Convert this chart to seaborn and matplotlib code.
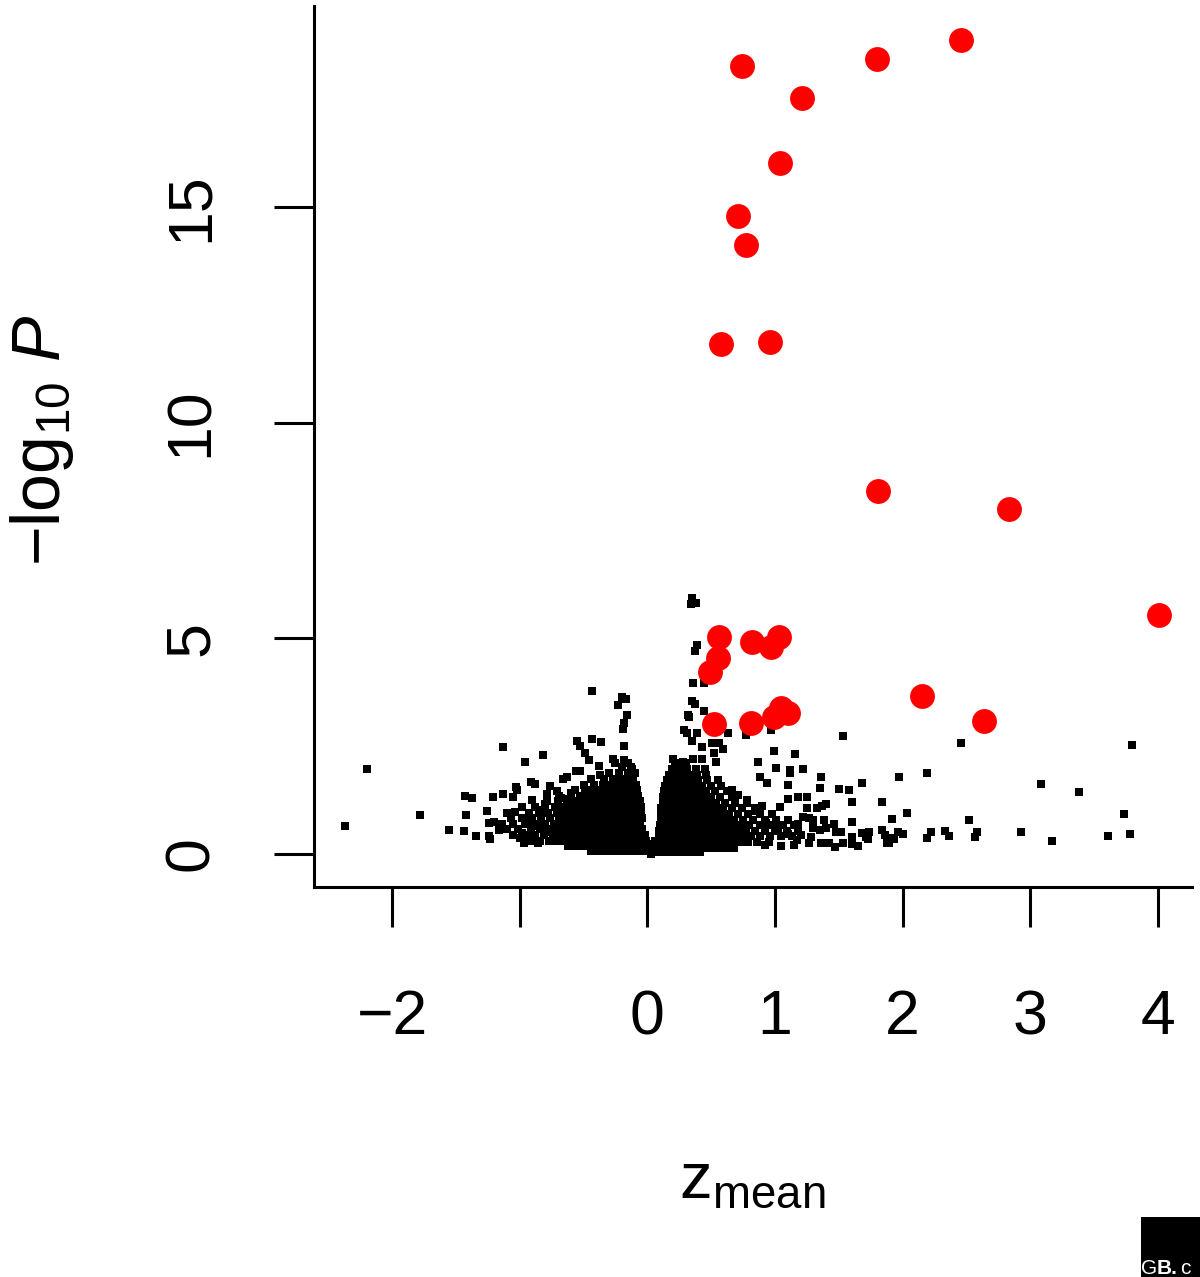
import numpy as np
import pandas as pd
import seaborn as sns
import matplotlib.pyplot as plt
from matplotlib.patches import Rectangle

# ----------------------------
# Data
# ----------------------------
# significant hits (red)
hit_z = [2.46, 1.80, 0.74, 1.21, 1.04, 0.71, 0.77, 0.58, 0.96, 1.81, 2.83, 4.01,
         0.56, 0.55, 0.49, 0.82, 0.97, 1.03, 0.52, 0.81, 0.99, 1.05, 1.10, 2.15, 2.64]
hit_p = [18.87, 18.42, 18.26, 17.52, 16.03, 14.78, 14.13, 11.83, 11.86, 8.42, 8.00, 5.54,
         5.03, 4.55, 4.22, 4.92, 4.80, 5.03, 3.02, 3.04, 3.18, 3.39, 3.27, 3.67, 3.09]

# scattered background genes (black), outside the dense core
spread_z = [-2.37, -2.20, -1.78, -1.55, -1.43, -1.37, -1.42, -1.44, -1.34, -1.24, -1.24,
            -1.26, -1.21, -1.13, -1.05, -1.03, -1.20, -1.16, -1.10, -1.04, -0.98, -0.97,
            -0.86, -1.23, -1.13, -0.82, -0.96, -0.91, -0.88, -1.02, -0.76, -0.71, -0.66,
            -0.63, -0.56, -0.53, -0.55, -0.43, -0.36, -0.53, -0.49, -0.46, -0.38, -0.37,
            -0.43, -0.20, -0.17, -0.23, -0.16, -0.18, -0.19, -0.18, -0.27, -0.25, -0.18,
            -0.15, -0.12,
            0.35, 0.34, 0.38, 0.39, 0.37, 0.36, 0.44, 0.35, 0.37, 0.32, 0.33, 0.44, 0.29,
            0.31, 0.35, 0.39, 0.63, 0.77, 0.97, 0.51, 0.56, 0.43, 0.52, 0.59, 0.99, 1.16,
            0.20, 0.28, 0.36, 0.43, 0.54, 0.87, 1.22, 1.01, 1.10, 1.36, 0.88, 0.94, 1.18,
            1.25, 1.10, 1.04, 1.53, 1.12, 1.12, 1.35, 1.50, 1.58, 1.68, 1.97, 1.60, 1.84,
            1.40, 1.37, 1.25, 1.33, 2.03, 1.92, 1.22, 1.27, 1.30, 1.30, 1.38, 1.46, 1.60,
            1.30, 1.35, 1.40, 1.48, 1.52, 1.68, 1.74, 1.84, 1.86, 1.96, 2.00, 1.17, 1.27,
            1.36, 1.42, 1.47, 1.53, 1.60, 1.60, 1.65, 1.71, 1.73, 1.88, 1.92, 1.89, 1.93,
            2.46, 3.80, 2.19, 3.08, 3.38, 3.73, 2.52, 2.93, 3.78, 3.61, 3.17, 2.22, 2.19,
            2.33, 2.36, 2.58, 2.57, 1.15, 1.05, 0.92, 1.20, 1.28,
            0.03, 0.04, 0.04, 0.05, 0.00, 0.06, -0.68, -0.60, -0.80, 0.71, 0.78, 0.66,
            -1.00, -0.86, -0.93, -0.75, -0.82, -0.70, -0.62, -0.98, -0.90, -0.79,
            0.85, 0.93, 1.02, 1.10, 0.90, 1.18]
spread_p = [0.65, 1.98, 0.90, 0.56, 1.35, 1.30, 0.90, 0.53, 0.42, 0.72, 0.42,
            1.00, 1.32, 1.39, 1.32, 1.56, 0.74, 0.56, 0.95, 0.98, 0.49, 0.26,
            0.26, 0.35, 2.48, 2.30, 2.14, 1.67, 1.62, 1.48, 1.58, 1.46, 1.74,
            1.78, 1.93, 1.93, 2.62, 2.67, 2.60, 2.50, 2.34, 2.18, 2.04, 1.83,
            3.78, 3.64, 3.60, 3.46, 3.22, 3.04, 2.90, 2.50, 2.20, 2.10, 2.18,
            2.12, 1.97,
            5.94, 5.80, 5.82, 4.85, 4.71, 3.96, 3.96, 3.55, 3.48, 3.22, 3.18, 3.32, 2.88,
            2.80, 2.62, 2.80, 2.80, 2.76, 2.88, 2.58, 2.58, 2.48, 2.34, 2.44, 2.39, 2.32,
            2.20, 2.13, 2.20, 2.20, 2.13, 2.13, 1.97, 1.99, 1.60, 1.79, 1.79, 1.65, 1.32,
            1.32, 1.28, 1.09, 2.74, 1.95, 1.88, 1.53, 1.50, 1.48, 1.64, 1.78, 1.20, 1.20,
            1.15, 1.11, 1.07, 1.07, 0.95, 0.81, 0.86, 0.83, 0.79, 0.72, 0.79, 0.70, 0.74,
            0.60, 0.56, 0.60, 0.51, 0.51, 0.49, 0.51, 0.56, 0.44, 0.51, 0.46, 0.33, 0.26,
            0.26, 0.26, 0.16, 0.26, 0.40, 0.23, 0.19, 0.40, 0.35, 0.26, 0.37, 0.26, 0.35,
            2.58, 2.53, 1.87, 1.62, 1.44, 0.92, 0.80, 0.52, 0.46, 0.41, 0.29, 0.51, 0.37,
            0.53, 0.42, 0.51, 0.39, 0.22, 0.18, 0.20, 0.45, 0.40,
            0.01, 0.08, 0.16, 0.24, 0.22, 0.30, 1.30, 1.42, 1.15, 1.36, 1.25, 1.48,
            0.37, 0.64, 0.76, 0.50, 1.02, 1.15, 1.28, 1.10, 1.25, 1.40,
            1.00, 0.72, 0.60, 0.47, 1.12, 0.69]

# dense core of the volcano, one row of genes per -log10 P level
left_rows_p = [0.06, 0.18, 0.31, 0.44, 0.57, 0.70, 0.83, 0.96, 1.09, 1.22, 1.35,
               1.48, 1.61, 1.74, 1.88, 2.02]
left_rows_z = [
    [-0.44, -0.39, -0.34, -0.29, -0.24, -0.19, -0.14, -0.09, -0.05, -0.01, 0.02],
    [-0.62, -0.56, -0.51, -0.46, -0.41, -0.36, -0.31, -0.26, -0.21, -0.16, -0.11, -0.06, -0.02, 0.01],
    [-0.92, -0.84, -0.77, -0.71, -0.65, -0.59, -0.54, -0.49, -0.44, -0.39, -0.34, -0.29, -0.24,
     -0.19, -0.14, -0.09, -0.05, -0.01],
    [-1.05, -0.94, -0.88, -0.81, -0.74, -0.68, -0.62, -0.57, -0.52, -0.47, -0.42, -0.37, -0.32,
     -0.27, -0.22, -0.17, -0.12, -0.07, -0.02],
    [-1.10, -1.01, -0.91, -0.84, -0.78, -0.71, -0.65, -0.59, -0.54, -0.49, -0.44, -0.39, -0.34,
     -0.29, -0.24, -0.19, -0.14, -0.09, -0.04],
    [-1.14, -1.05, -0.96, -0.88, -0.80, -0.73, -0.67, -0.61, -0.56, -0.51, -0.46, -0.41, -0.36,
     -0.31, -0.26, -0.21, -0.16, -0.11, -0.06],
    [-1.07, -0.98, -0.90, -0.83, -0.76, -0.69, -0.63, -0.58, -0.53, -0.48, -0.43, -0.38, -0.33,
     -0.28, -0.23, -0.18, -0.13, -0.08, -0.04],
    [-0.93, -0.85, -0.78, -0.71, -0.65, -0.59, -0.54, -0.49, -0.44, -0.39, -0.34, -0.29, -0.24,
     -0.19, -0.14, -0.09, -0.05],
    [-0.88, -0.80, -0.72, -0.66, -0.60, -0.55, -0.50, -0.45, -0.40, -0.35, -0.30, -0.25, -0.20,
     -0.15, -0.10, -0.05],
    [-0.79, -0.70, -0.63, -0.57, -0.51, -0.46, -0.41, -0.36, -0.31, -0.26, -0.21, -0.16, -0.11, -0.06],
    [-0.69, -0.60, -0.53, -0.47, -0.42, -0.37, -0.32, -0.27, -0.22, -0.17, -0.12, -0.07],
    [-0.57, -0.49, -0.43, -0.37, -0.32, -0.27, -0.22, -0.17, -0.12, -0.08],
    [-0.50, -0.42, -0.35, -0.29, -0.24, -0.19, -0.14, -0.09],
    [-0.44, -0.34, -0.27, -0.21, -0.16, -0.11],
    [-0.30, -0.22, -0.15, -0.10],
    [-0.20, -0.13],
]

right_rows_p = [0.04, 0.15, 0.28, 0.41, 0.54, 0.67, 0.80, 0.93, 1.06, 1.19, 1.32,
                1.45, 1.58, 1.71, 1.84, 1.97, 2.10]
right_rows_z = [
    [0.05, 0.09, 0.13, 0.17, 0.21, 0.26, 0.31, 0.36, 0.41],
    [0.07, 0.11, 0.15, 0.19, 0.23, 0.28, 0.33, 0.38, 0.43, 0.48, 0.53, 0.58, 0.63, 0.68],
    [0.08, 0.12, 0.16, 0.20, 0.24, 0.29, 0.34, 0.39, 0.44, 0.49, 0.54, 0.59, 0.64, 0.69,
     0.74, 0.79, 0.86, 0.95],
    [0.09, 0.13, 0.17, 0.21, 0.25, 0.30, 0.35, 0.40, 0.45, 0.50, 0.55, 0.60, 0.65, 0.70,
     0.75, 0.81, 0.88, 0.96, 1.05, 1.13],
    [0.09, 0.13, 0.17, 0.21, 0.26, 0.31, 0.36, 0.41, 0.46, 0.51, 0.56, 0.61, 0.66, 0.71,
     0.77, 0.84, 0.92, 1.00, 1.09, 1.18],
    [0.10, 0.14, 0.18, 0.22, 0.27, 0.32, 0.37, 0.42, 0.47, 0.52, 0.57, 0.62, 0.67, 0.73,
     0.80, 0.88, 0.97, 1.06, 1.15],
    [0.11, 0.15, 0.19, 0.23, 0.27, 0.32, 0.37, 0.42, 0.47, 0.52, 0.57, 0.62, 0.68, 0.75,
     0.83, 0.92, 1.01, 1.10],
    [0.11, 0.15, 0.19, 0.23, 0.27, 0.32, 0.37, 0.42, 0.47, 0.52, 0.58, 0.64, 0.71, 0.79,
     0.88, 0.98],
    [0.11, 0.15, 0.19, 0.23, 0.28, 0.33, 0.38, 0.43, 0.48, 0.53, 0.59, 0.66, 0.74, 0.84],
    [0.12, 0.16, 0.20, 0.24, 0.28, 0.33, 0.38, 0.43, 0.48, 0.54, 0.61, 0.69, 0.78],
    [0.12, 0.16, 0.20, 0.24, 0.29, 0.34, 0.39, 0.44, 0.50, 0.57, 0.66],
    [0.13, 0.17, 0.21, 0.25, 0.30, 0.35, 0.40, 0.46, 0.53, 0.62],
    [0.14, 0.18, 0.22, 0.27, 0.32, 0.37, 0.43, 0.50, 0.58],
    [0.15, 0.19, 0.24, 0.29, 0.34, 0.40, 0.47, 0.55],
    [0.17, 0.21, 0.27, 0.33, 0.39, 0.46],
    [0.19, 0.25, 0.31, 0.38, 0.45],
    [0.22, 0.30],
]

x_ticks = [-2, -1, 0, 1, 2, 3, 4]
x_tick_labels = ["\u22122", "", "0", "1", "2", "3", "4"]
y_ticks = [0, 5, 10, 15]

# ----------------------------
# Tables
# ----------------------------
core_z, core_p = [], []
for p, zs in zip(left_rows_p + right_rows_p, left_rows_z + right_rows_z):
    core_z += zs
    core_p += [p] * len(zs)

genes = pd.DataFrame({"z": spread_z + core_z, "p": spread_p + core_p})
hits = pd.DataFrame({"z": hit_z, "p": hit_p})

# ----------------------------
# Style
# ----------------------------
sns.set_style("ticks")
plt.rcParams["font.family"] = ["Liberation Sans", "DejaVu Sans"]
plt.rcParams["mathtext.fontset"] = "custom"
plt.rcParams["mathtext.rm"] = "Liberation Sans"
plt.rcParams["mathtext.it"] = "Liberation Sans:italic"
plt.rcParams["mathtext.bf"] = "Liberation Sans:bold"
plt.rcParams["text.color"] = "black"
plt.rcParams["axes.labelcolor"] = "black"

fig = plt.figure(figsize=(12, 12.77), dpi=100)
ax = fig.add_axes([0.2617, 0.3054, 0.7317, 0.6899])

sns.scatterplot(data=genes, x="z", y="p", marker="s", s=32, color="black",
                linewidth=0, ax=ax, legend=False)
sns.scatterplot(data=hits, x="z", y="p", marker="o", s=320, color="#ff0000",
                linewidth=0, ax=ax, legend=False, zorder=3)

ax.set_xlim(-2.611, 4.267)
ax.set_ylim(-0.765, 19.66)
ax.set_xticks(x_ticks)
ax.set_xticklabels(x_tick_labels)
ax.set_yticks(y_ticks)
ax.set_yticklabels([str(v) for v in y_ticks], rotation=90, va="center")

for side in ["top", "right"]:
    ax.spines[side].set_visible(False)
for side in ["left", "bottom"]:
    ax.spines[side].set_linewidth(2.2)
    ax.spines[side].set_color("black")

ax.tick_params(axis="both", direction="out", length=29, width=2.2,
               labelsize=45, colors="black")
ax.tick_params(axis="x", pad=44)
ax.tick_params(axis="y", pad=38)

ax.set_xlabel(r"z$_{\mathrm{mean}}$", fontsize=47, va="center", color="black")
ax.xaxis.set_label_coords(0.499, -0.333)
ax.set_ylabel("\u2212log$_{10}$ $\\mathit{P}$", fontsize=49, va="center", color="black")
ax.yaxis.set_label_coords(-0.31, 0.507)

# site watermark, bottom right corner
fig.patches.append(Rectangle((1141 / 1200, 0), 59 / 1200, 60 / 1277,
                             transform=fig.transFigure, facecolor="black",
                             edgecolor="none"))
fig.text(1141 / 1200, 3 / 1277, "G", color="white", fontsize=15, va="baseline")
fig.text(1157 / 1200, 3 / 1277, "B.", color="white", fontsize=15,
         fontweight="bold", va="baseline")
fig.text(1180 / 1200, 3 / 1277, "c", color="white", fontsize=15, va="baseline")

fig.savefig("out.png", dpi=100)
plt.close(fig)
